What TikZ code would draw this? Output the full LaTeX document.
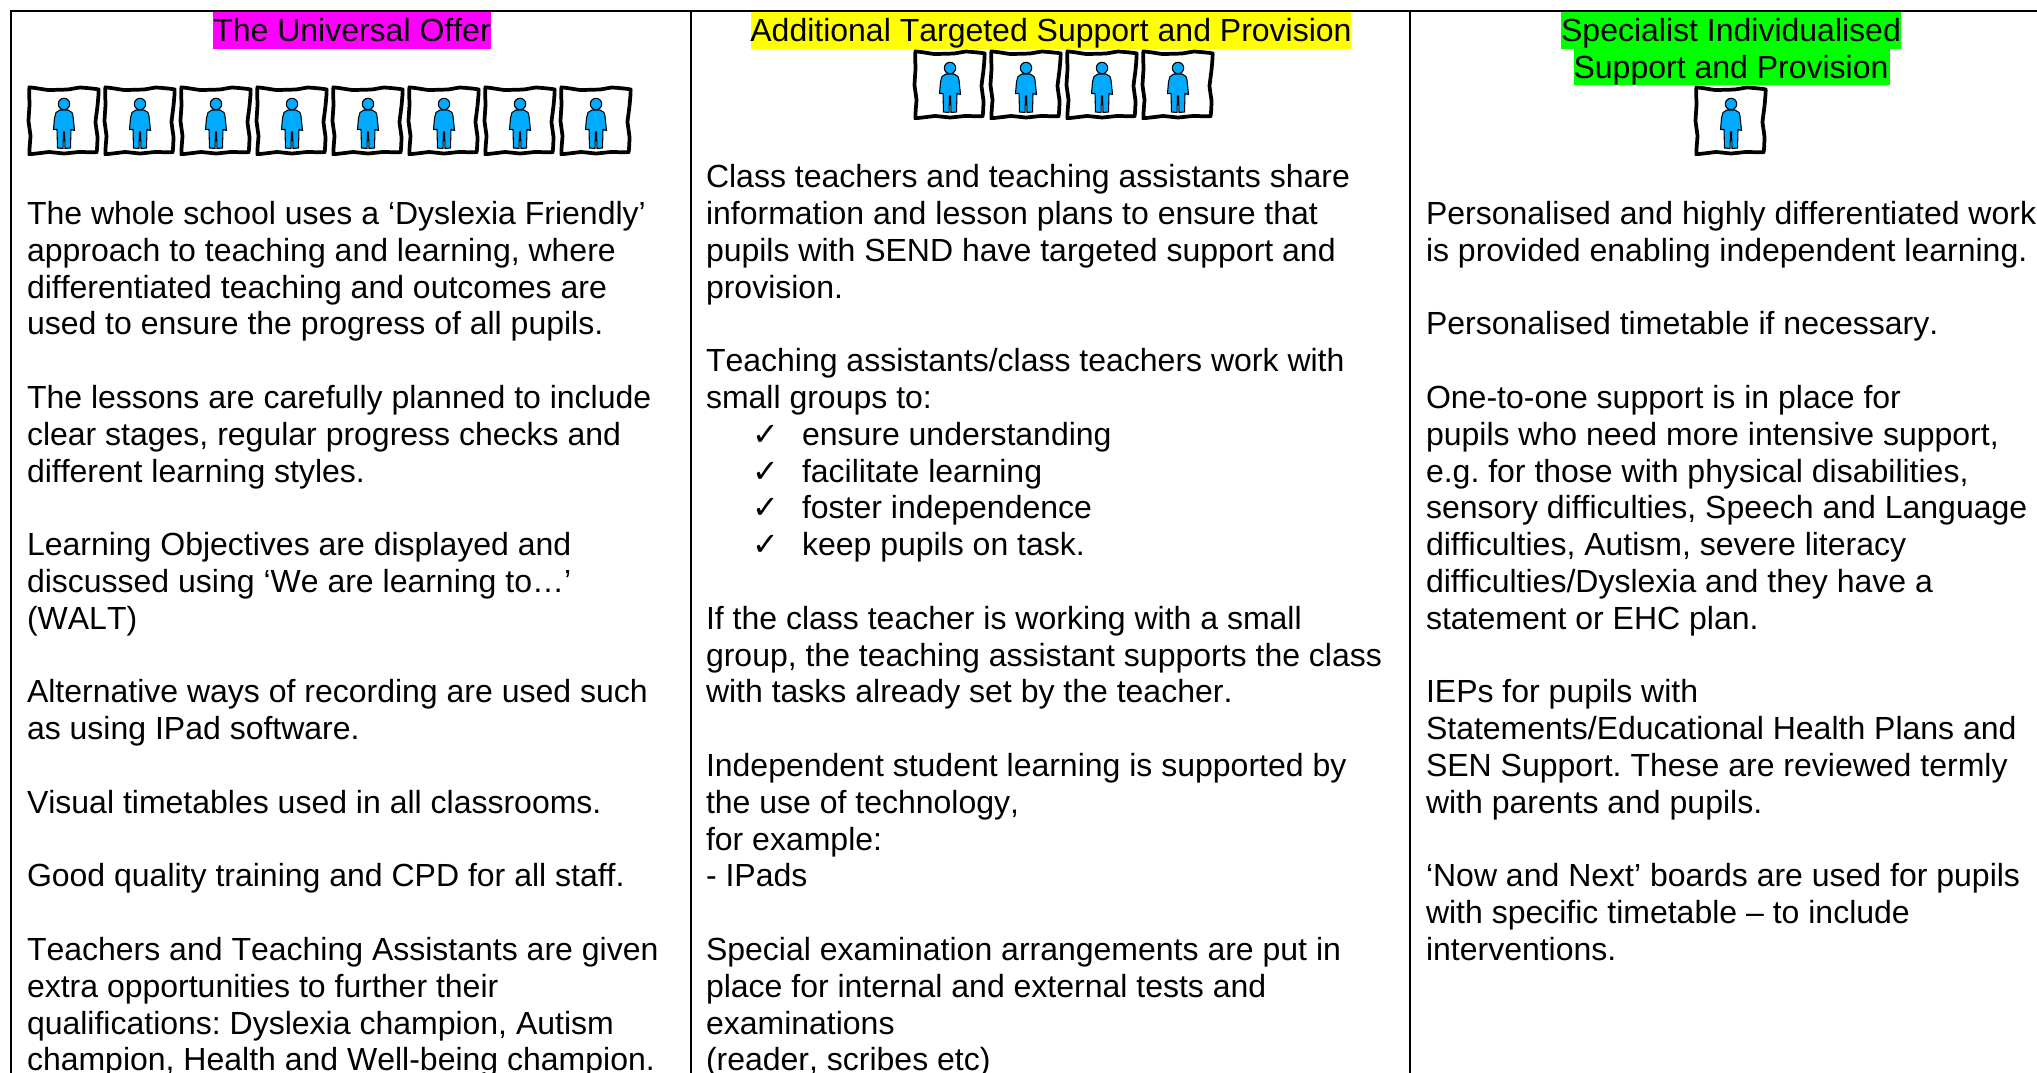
\documentclass[tikz,border=0pt]{standalone}
\usepackage{fontspec}
\setmainfont[Kerning=Off]{Liberation Sans}
\newfontfamily\chkfont{DejaVu Sans}
\definecolor{personblue}{RGB}{0,170,255}
\definecolor{hlmagenta}{RGB}{255,0,255}
\definecolor{hlyellow}{RGB}{255,255,0}
\definecolor{hlgreen}{RGB}{0,255,0}
\tikzset{
  x=0.75pt,y=-0.75pt,
  txt/.style={anchor=base west,inner sep=0,outer sep=0,font=\fontsize{24}{28}\selectfont,text=black},
  hdr/.style={anchor=base,inner sep=0,outer sep=0,font=\fontsize{24}{28}\selectfont,text=black},
  rule/.style={draw=black,line width=2pt},
  framebox/.style={draw=black,line width=2.8pt,line join=miter,fill=white},
  personbody/.style={draw=black,line width=0.8pt,fill=personblue},
  personbox/.pic={
    \draw[framebox] plot[smooth cycle,tension=0.12] coordinates {(-34.5,-33.5) (-16,-31) (4,-31.5) (16,-33.5) (34.5,-31.5) (33.5,-15) (31.5,1) (33.5,16) (32.5,31) (15,31) (0,32.5) (-15,31) (-34.5,33) (-33.5,15) (-35.5,0) (-34.5,-16)};
    \draw[personbody] (0,-17) circle[radius=5.7];
    \draw[personbody,line join=round] (-4,-11) -- (-8,-8.5) -- (-9.5,-3) -- (-10.5,8.5) -- (-7,8.5) -- (-6.5,27) -- (-1,27.5) -- (-0.5,11) -- (0.5,11) -- (1,27.5) -- (6.5,27) -- (7,8.5) -- (10.5,9.5) -- (9,-5) -- (8,-8.5) -- (4,-11) -- cycle;
  }
}
\newcommand{\tl}[4]{\node[txt] (#1) at (#2,{224.5+36.8*(#3)}) {#4};}
\frenchspacing
\begin{document}
\begin{tikzpicture}
\useasboundingbox (0,0) rectangle (2037,1073);
% rules
\draw[rule] (10,11) -- (2037,11);
\draw[rule] (11,11) -- (11,1073);
\draw[rule] (691,11) -- (691,1073);
\draw[rule] (1410,11) -- (1410,1073);
% header highlights
\fill[hlmagenta] (213,12.5) rectangle (491,49);
\fill[hlyellow] (751,12.5) rectangle (1351,49);
\fill[hlgreen] (1561,12.5) rectangle (1901,49);
\fill[hlgreen] (1574,49) rectangle (1890,85);
\node[hdr] (h1) at (352,42) {The Universal Offer};
\node[hdr] (h2) at (1051,42) {Additional Targeted Support and Provision};
\node[hdr] (h3a) at (1731,42) {Specialist Individualised};
\node[hdr] (h3b) at (1731,79) {Support and Provision};
% icons
\foreach \px in {64,140,216,292,368,444,520,596} \pic at (\px,121) {personbox};
\foreach \px in {950,1026,1102,1178} \pic at (\px,85) {personbox};
\pic at (1731,121) {personbox};
% column 1
\tl{a0}{27}{0}{The whole school uses a ‘Dyslexia Friendly’}
\tl{a1}{27}{1}{approach to teaching and learning, where}
\tl{a2}{27}{2}{differentiated teaching and outcomes are}
\tl{a3}{27}{3}{used to ensure the progress of all pupils.}
\tl{a5}{27}{5}{The lessons are carefully planned to include}
\tl{a6}{27}{6}{clear stages, regular progress checks and}
\tl{a7}{27}{7}{different learning styles.}
\tl{a9}{27}{9}{Learning Objectives are displayed and}
\tl{a10}{27}{10}{discussed using ‘We are learning to…’}
\tl{a11}{27}{11}{(WALT)}
\tl{a13}{27}{13}{Alternative ways of recording are used such}
\tl{a14}{27}{14}{as using IPad software.}
\tl{a16}{27}{16}{Visual timetables used in all classrooms.}
\tl{a18}{27}{18}{Good quality training and CPD for all staff.}
\tl{a20}{27}{20}{Teachers and Teaching Assistants are given}
\tl{a21}{27}{21}{extra opportunities to further their}
\tl{a22}{27}{22}{qualifications: Dyslexia champion, Autism}
\tl{a23}{27}{23}{champion, Health and Well-being champion.}
% column 2
\tl{b0}{706}{-1}{Class teachers and teaching assistants share}
\tl{b1}{706}{0}{information and lesson plans to ensure that}
\tl{b2}{706}{1}{pupils with SEND have targeted support and}
\tl{b3}{706}{2}{provision.}
\tl{b5}{706}{4}{Teaching assistants/class teachers work with}
\tl{b6}{706}{5}{small groups to:}
\tl{k7}{752}{6}{\chkfont ✓}
\tl{b7}{802}{6}{ensure understanding}
\tl{k8}{752}{7}{\chkfont ✓}
\tl{b8}{802}{7}{facilitate learning}
\tl{k9}{752}{8}{\chkfont ✓}
\tl{b9}{802}{8}{foster independence}
\tl{k10}{752}{9}{\chkfont ✓}
\tl{b10}{802}{9}{keep pupils on task.}
\tl{b12}{706}{11}{If the class teacher is working with a small}
\tl{b13}{706}{12}{group, the teaching assistant supports the class}
\tl{b14}{706}{13}{with tasks already set by the teacher.}
\tl{b16}{706}{15}{Independent student learning is supported by}
\tl{b17}{706}{16}{the use of technology,}
\tl{b18}{706}{17}{for example:}
\tl{b19}{706}{18}{- IPads}
\tl{b21}{706}{20}{Special examination arrangements are put in}
\tl{b22}{706}{21}{place for internal and external tests and}
\tl{b23}{706}{22}{examinations}
\tl{b24}{706}{23}{(reader, scribes etc)}
% column 3
\tl{c0}{1426}{0}{Personalised and highly differentiated work}
\tl{c1}{1426}{1}{is provided enabling independent learning.}
\tl{c3}{1426}{3}{Personalised timetable if necessary.}
\tl{c5}{1426}{5}{One-to-one support is in place for}
\tl{c6}{1426}{6}{pupils who need more intensive support,}
\tl{c7}{1426}{7}{e.g. for those with physical disabilities,}
\tl{c8}{1426}{8}{sensory difficulties, Speech and Language}
\tl{c9}{1426}{9}{difficulties, Autism, severe literacy}
\tl{c10}{1426}{10}{difficulties/Dyslexia and they have a}
\tl{c11}{1426}{11}{statement or EHC plan.}
\tl{c13}{1426}{13}{IEPs for pupils with}
\tl{c14}{1426}{14}{Statements/Educational Health Plans and}
\tl{c15}{1426}{15}{SEN Support. These are reviewed termly}
\tl{c16}{1426}{16}{with parents and pupils.}
\tl{c18}{1426}{18}{‘Now and Next’ boards are used for pupils}
\tl{c19}{1426}{19}{with specific timetable – to include}
\tl{c20}{1426}{20}{interventions.}
\end{tikzpicture}
\end{document}
